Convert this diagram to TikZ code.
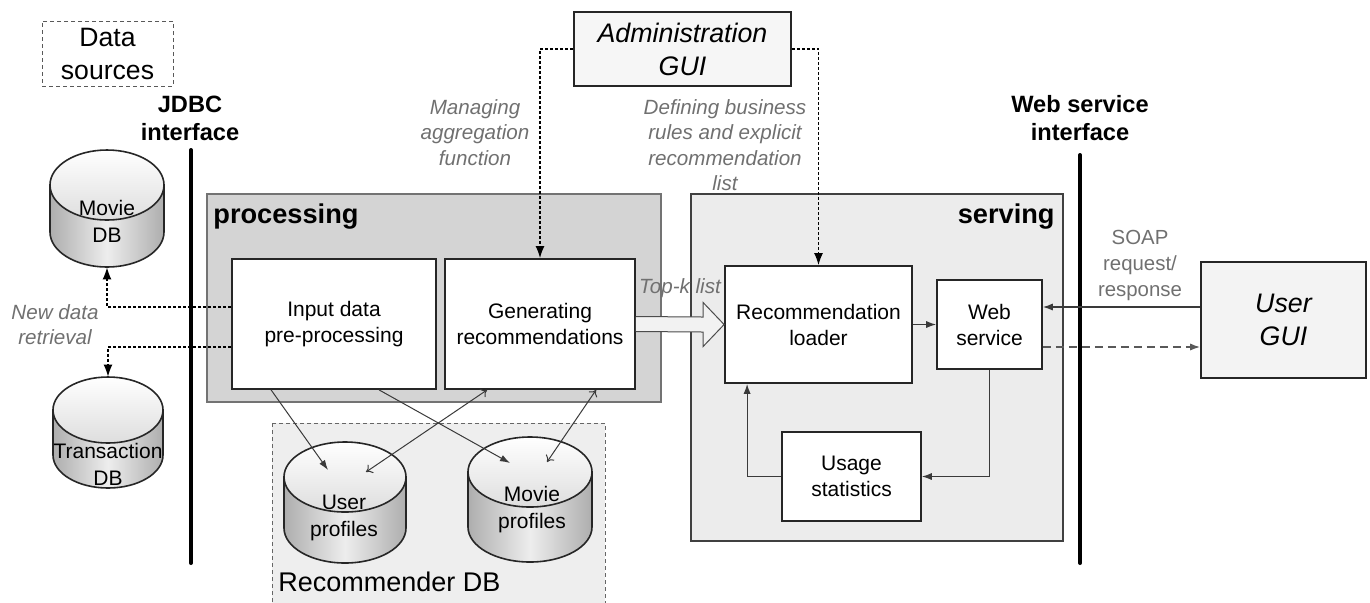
\documentclass[tikz,border=0pt]{standalone}
\usepackage{fontspec}
\setmainfont{Liberation Sans}
\usetikzlibrary{calc,arrows.meta}
\definecolor{procfill}{HTML}{D4D4D4}
\definecolor{servfill}{HTML}{ECECEC}
\definecolor{recfill}{HTML}{EEEEEE}
\definecolor{lblgray}{HTML}{707070}
\definecolor{linegray}{HTML}{3A3A3A}
\definecolor{guifill}{HTML}{F3F3F3}
\definecolor{admfill}{HTML}{F6F6F6}
\tikzset{
  box/.style={draw=black!85, fill=white, line width=0.9pt, inner sep=0pt, align=center,
              font=\fontsize{10.5}{13}\selectfont},
  gui/.style={draw=black!85, line width=0.9pt, inner sep=0pt, align=center,
              font=\fontsize{13.4}{16.5}\selectfont\itshape},
  procregion/.style={draw=black!55, fill=procfill, line width=0.6pt},
  servregion/.style={draw=black!75, fill=servfill, line width=0.8pt},
  recregion/.style={draw=black!60, fill=recfill, line width=0.5pt, dash pattern=on 2pt off 1.5pt},
  srcbox/.style={draw=black!65, line width=0.5pt, dash pattern=on 2pt off 1.5pt, inner sep=0pt,
                 align=center, font=\fontsize{13.3}{16.5}\selectfont},
  title/.style={font=\fontsize{13.6}{16}\selectfont\bfseries, inner sep=0pt},
  iface/.style={font=\fontsize{11.8}{14}\selectfont\bfseries, align=center, inner sep=0pt},
  ifaceline/.style={line width=2pt, line cap=round},
  lbl/.style={text=lblgray, font=\fontsize{10.3}{12.75}\selectfont\itshape, align=center, inner sep=0pt},
  plainlbl/.style={text=lblgray, font=\fontsize{10.2}{12.9}\selectfont, align=center, inner sep=0pt},
  cyltext/.style={font=\fontsize{10.5}{13.5}\selectfont, align=center, inner sep=0pt},
  cylbody/.style={draw=black!85, line width=0.8pt, left color=black!32, right color=black!32, middle color=black!7},
  cyltop/.style={draw=black!85, line width=0.8pt, top color=white, bottom color=black!13},
  dotarrow/.style={line width=0.7pt, dash pattern=on 1.5pt off 1pt, -{Latex[length=6pt,width=4.5pt]}},
  solidarrow/.style={draw=linegray, line width=0.6pt, -{Latex[length=5pt,width=3.6pt]}},
  thinarrow/.style={draw=linegray, line width=0.5pt, -{Latex[length=5pt,width=3.4pt]}},
  twoway/.style={draw=linegray, line width=0.5pt, {To[length=3pt,width=5pt]}-{To[length=3pt,width=5pt]}},
  dasharrow/.style={draw=black!65, line width=0.7pt, dash pattern=on 4pt off 2.5pt, -{Latex[length=5pt,width=3.6pt]}},
  bigarrow/.style={draw=black!70, fill=black!5, line width=0.5pt, line join=miter}
}
\newcommand\dbcyl[6]{%
  \path[cylbody] (#2-#5,#3) -- (#2-#5,#4) arc[start angle=180,end angle=360,x radius=#5*0.5pt,y radius=#6*0.5pt] -- (#2+#5,#3) -- cycle;
  \path[cyltop] (#2,#3) ellipse[x radius=#5*0.5pt,y radius=#6*0.5pt];
  \coordinate (#1-top) at (#2,#3);
  \node[inner sep=0pt, minimum width=#5*1pt, minimum height={(#4-#3+2*#6)*0.5pt}] (#1) at (#2,{(#3+#4)/2}) {};
}
\begin{document}
\begin{tikzpicture}[x=0.5pt, y=-0.5pt]
\useasboundingbox (0,0) rectangle (1370,602);

% regions
\draw[procregion] (207,194) rectangle (661,402);
\draw[servregion] (691,194) rectangle (1063,541);
\draw[recregion] (272,423) rectangle (605,610);

\node[title, anchor=base west] (proct) at (213,223) {processing};
\node[title, anchor=base east] (servt) at (1055,223) {serving};
\node[anchor=base west, inner sep=0pt, font=\fontsize{13.5}{16}\selectfont] (rect) at (278,591) {Recommender DB};

% data sources and interfaces
\node[srcbox, minimum width=65.5pt, minimum height=32.5pt] (src) at (107.5,53.5) {Data\\sources};
\node[iface] (jdbc) at (190,118) {JDBC\\interface};
\node[iface] (wsi) at (1080,118) {Web service\\interface};
\coordinate (jdbctop) at (191,150);
\coordinate (jdbcbot) at (191,563);
\coordinate (wsitop) at (1080,155);
\coordinate (wsibot) at (1080,563);
\draw[ifaceline] (jdbctop) -- (jdbcbot);
\draw[ifaceline] (wsitop) -- (wsibot);

% databases
\dbcyl{mdb}{107}{185}{232}{57}{35}
\dbcyl{tdb}{108}{410}{455}{55}{33}
\dbcyl{up}{345}{477}{528}{61}{35}
\dbcyl{mp}{530}{472}{527}{62}{35}
\node[cyltext] (mdbt) at (107,221.5) {Movie\\DB};
\node[cyltext] (tdbt) at (108,464.5) {Transaction\\DB};
\node[cyltext] (upt) at (344,518) {User\\profiles};
\node[cyltext] (mpt) at (532,510) {Movie\\profiles};

% process boxes
\node[box, minimum width=102pt, minimum height=65pt] (inp) at (334,324) {Input data\\pre-processing};
\node[box, minimum width=95pt, minimum height=65pt] (gen) at (540,324) {Generating\\recommendations};
\node[box, minimum width=93.5pt, minimum height=58.5pt] (rl) at (818.5,324.5) {Recommendation\\loader};
\node[box, minimum width=52.5pt, minimum height=44.5pt] (ws) at (989.5,324.5) {Web\\service};
\node[box, minimum width=69.5pt, minimum height=44.5pt] (use) at (851.5,476.5) {Usage\\statistics};
\node[gui, fill=guifill, minimum width=82.5pt, minimum height=58pt] (ugui) at (1283.5,320) {User\\GUI};
\node[gui, fill=admfill, minimum width=108.5pt, minimum height=37pt] (adm) at (682.5,49) {Administration\\GUI};

% labels
\node[lbl] (ndr) at (55,324.5) {New data\\retrieval};
\node[lbl] (mag) at (475,132.5) {Managing\\aggregation\\function};
\node[lbl] (dbr) at (725,145) {Defining business\\rules and explicit\\recommendation\\list};
\node[plainlbl] (soap) at (1140,265.5) {SOAP\\request/\\response};

% admin connectors
\draw[dotarrow] (adm.west) -| (gen.north);
\draw[dotarrow] (adm.east) -| (rl.north);

% new data retrieval
\draw[dotarrow] ($(inp.west)+(0,-17)$) -| (mdb.south);
\draw[dotarrow] ($(inp.west)+(0,23)$) -| (tdb.north);

% top-k list
\draw[bigarrow] ($(gen.east)+(0,-7.5)$) -- ($(rl.west)+(-21,-7.5)$) -- ($(rl.west)+(-21,-22)$)
   -- (rl.west) -- ($(rl.west)+(-21,22)$) -- ($(rl.west)+(-21,7.5)$) -- ($(gen.east)+(0,7.5)$);
\node[lbl] (topk) at (680,288) {Top-\textit{k} list};

% serving internals
\draw[solidarrow] (rl.east) -- (ws.west);
\draw[solidarrow] (ws.south) |- (use.east);
\draw[solidarrow] (use.west) -| ($(rl.south west)+(23,0)$);

% user gui
\draw[solidarrow] ($(ugui.west)+(0,-13)$) -- ($(ws.east)+(0,-17.5)$);
\draw[dasharrow] ($(ws.east)+(0,22.5)$) -- ($(ugui.west)+(0,27)$);

% recommender db connectors
\draw[thinarrow] ($(inp.south west)+(40,0)$) -- ($(up-top)+(-17,-7)$);
\draw[thinarrow] ($(inp.south west)+(148,0)$) -- ($(mp-top)+(-20,-9)$);
\draw[twoway] ($(gen.south west)+(43,0)$) -- ($(up-top)+(21,-5)$);
\draw[twoway] ($(gen.south west)+(152,0)$) -- ($(mp-top)+(17,-10)$);
\end{tikzpicture}
\end{document}
